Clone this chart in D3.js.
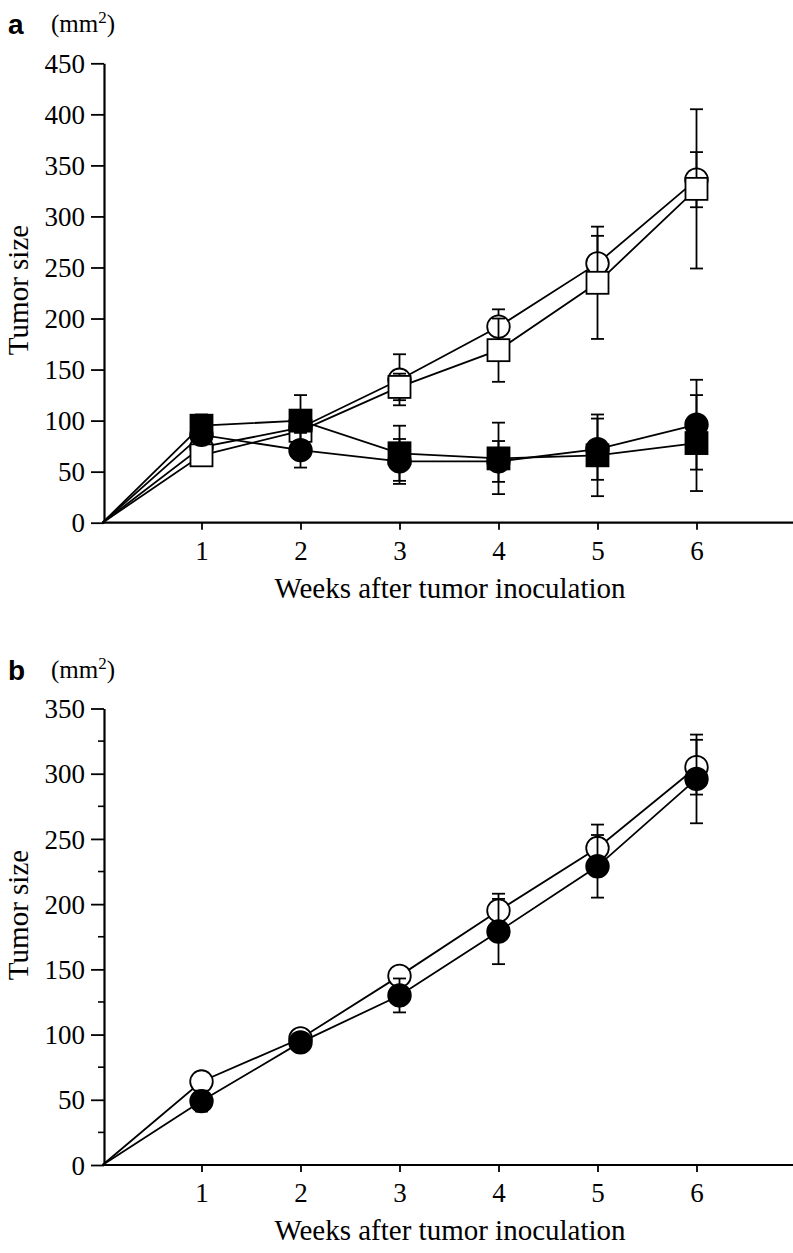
<!DOCTYPE html>
<html>
<head>
<meta charset="utf-8">
<script src="https://cdn.jsdelivr.net/npm/d3@7"></script>
<style>
  body { margin: 0; background: #fff; }
  svg { display: block; }
  text { font-family: "Liberation Serif", "Times New Roman", serif; fill: #000; }
</style>
</head>
<body>
<script>
// weeks after inoculation (0 = start, lines begin at origin)
const weeks = [0, 1, 2, 3, 4, 5, 6];
const weekTicks = [1, 2, 3, 4, 5, 6];

// panel a
const aOpenCircle = [0, 74, 93, 140, 192, 254, 336];
const aOpenCircleErr = [0, 4, 5, 25, 17, 27, 27];
const aOpenSquare = [0, 66, 90, 133, 169, 235, 327];
const aOpenSquareErr = [0, 5, 8, 13, 31, 55, 78];
const aFilledCircle = [0, 86, 71, 60, 60, 72, 96];
const aFilledCircleErr = [0, 8, 17, 22, 20, 30, 44];
const aFilledSquare = [0, 95, 100, 68, 63, 66, 78];
const aFilledSquareErr = [0, 11, 25, 27, 35, 40, 47];
const aYTicks = [0, 50, 100, 150, 200, 250, 300, 350, 400, 450];

// panel b
const bOpenCircle = [0, 64, 97, 145, 195, 243, 305];
const bOpenCircleErr = [0, 3, 5, 5, 13, 18, 21];
const bFilledCircle = [0, 49, 94, 130, 179, 229, 296];
const bFilledCircleErr = [0, 8, 6, 13, 25, 24, 34];
const bYTicks = [0, 50, 100, 150, 200, 250, 300, 350];
const bYMinor = [25, 75, 125, 175, 225, 275, 325];

const W = 793, H = 1253;

const svg = d3.select("body").append("svg")
    .attr("width", W)
    .attr("height", H);

let x = d3.scaleLinear().domain([0, 7]).range([102.5, 795.5]);

let drawPanel = (cfg) => {
    let y = d3.scaleLinear().domain([0, cfg.max]).range([cfg.bottom, cfg.top]);
    let g = svg.append("g").attr("class", "panel");

    // y axis
    let yAxis = g.append("g")
        .attr("transform", "translate(104,0)")
        .call(d3.axisLeft(y).tickValues(cfg.yTicks).tickSize(13).tickSizeOuter(0).tickPadding(6));
    yAxis.selectAll("text").style("font-size", "27px").attr("dy", "0.34em");

    if (cfg.minor) {
        g.append("g").selectAll("line")
            .data(cfg.minor)
            .enter()
            .append("line")
            .attr("x1", 98).attr("x2", 104)
            .attr("y1", d => y(d)).attr("y2", d => y(d))
            .attr("stroke", "#000").attr("stroke-width", 1.6);
    }

    // x axis
    let xAxis = g.append("g")
        .attr("transform", "translate(0," + cfg.bottom + ")")
        .call(d3.axisBottom(x).tickValues(weekTicks).tickFormat(d3.format("d"))
            .tickSize(7).tickSizeOuter(0).tickPadding(11));
    xAxis.selectAll("text").style("font-size", "27px");
    xAxis.select(".domain").attr("d", "M104,0H793");

    g.selectAll(".domain").attr("stroke-width", 2.2);
    g.selectAll(".tick line").attr("stroke-width", 1.8);

    // labels
    g.append("text")
        .attr("x", 8).attr("y", cfg.top - 29)
        .style("font-family", "'Liberation Sans', Arial, sans-serif")
        .style("font-weight", "bold")
        .style("font-size", "28px")
        .text(cfg.letter);

    let unit = g.append("text")
        .attr("x", 51).attr("y", cfg.top - 31)
        .style("font-size", "25px");
    unit.append("tspan").text("(mm");
    unit.append("tspan").attr("dy", -9).style("font-size", "17px").text("2");
    unit.append("tspan").attr("dy", 9).text(")");

    g.append("text")
        .attr("transform", "translate(28," + cfg.yTitle + ") rotate(-90)")
        .attr("text-anchor", "middle")
        .style("font-size", "29px")
        .text("Tumor size");

    g.append("text")
        .attr("x", 450).attr("y", cfg.bottom + 75)
        .attr("text-anchor", "middle")
        .style("font-size", "29px")
        .text("Weeks after tumor inoculation");

    let line = d3.line()
        .x((d, i) => x(weeks[i]))
        .y(d => y(d));

    cfg.series.forEach(s => {
        g.append("path")
            .datum(s.values)
            .attr("d", line)
            .attr("fill", "none")
            .attr("stroke", "#000")
            .attr("stroke-width", 1.8);
    });

    cfg.series.forEach(s => {
        let pts = s.values.map((v, i) => ({w: weeks[i], v: v, e: s.err[i]})).filter(d => d.w > 0);
        let sg = g.append("g");

        let eb = sg.selectAll("g.err")
            .data(pts)
            .enter()
            .append("g")
            .attr("class", "err");
        eb.append("line")
            .attr("x1", d => x(d.w)).attr("x2", d => x(d.w))
            .attr("y1", d => y(d.v + d.e)).attr("y2", d => y(d.v - d.e));
        eb.append("line")
            .attr("x1", d => x(d.w) - 6.5).attr("x2", d => x(d.w) + 6.5)
            .attr("y1", d => y(d.v + d.e)).attr("y2", d => y(d.v + d.e));
        eb.append("line")
            .attr("x1", d => x(d.w) - 6.5).attr("x2", d => x(d.w) + 6.5)
            .attr("y1", d => y(d.v - d.e)).attr("y2", d => y(d.v - d.e));
        eb.selectAll("line").attr("stroke", "#000").attr("stroke-width", 1.8);

        let fill = s.filled ? "#000" : "#fff";
        if (s.shape === "circle") {
            sg.selectAll("circle")
                .data(pts)
                .enter()
                .append("circle")
                .attr("cx", d => x(d.w))
                .attr("cy", d => y(d.v))
                .attr("r", 11.3)
                .attr("fill", fill)
                .attr("stroke", "#000")
                .attr("stroke-width", 1.8);
        } else {
            sg.selectAll("rect")
                .data(pts)
                .enter()
                .append("rect")
                .attr("x", d => x(d.w) - 11)
                .attr("y", d => y(d.v) - 11)
                .attr("width", 22)
                .attr("height", 22)
                .attr("fill", fill)
                .attr("stroke", "#000")
                .attr("stroke-width", 1.8);
        }
    });
};

drawPanel({
    letter: "a",
    max: 450, top: 63.3, bottom: 522.7,
    yTicks: aYTicks, minor: null, yTitle: 290,
    series: [
        {values: aOpenCircle, err: aOpenCircleErr, shape: "circle", filled: false},
        {values: aOpenSquare, err: aOpenSquareErr, shape: "square", filled: false},
        {values: aFilledCircle, err: aFilledCircleErr, shape: "circle", filled: true},
        {values: aFilledSquare, err: aFilledSquareErr, shape: "square", filled: true}
    ]
});

drawPanel({
    letter: "b",
    max: 350, top: 708.5, bottom: 1165,
    yTicks: bYTicks, minor: bYMinor, yTitle: 915,
    series: [
        {values: bOpenCircle, err: bOpenCircleErr, shape: "circle", filled: false},
        {values: bFilledCircle, err: bFilledCircleErr, shape: "circle", filled: true}
    ]
});
</script>
</body>
</html>
